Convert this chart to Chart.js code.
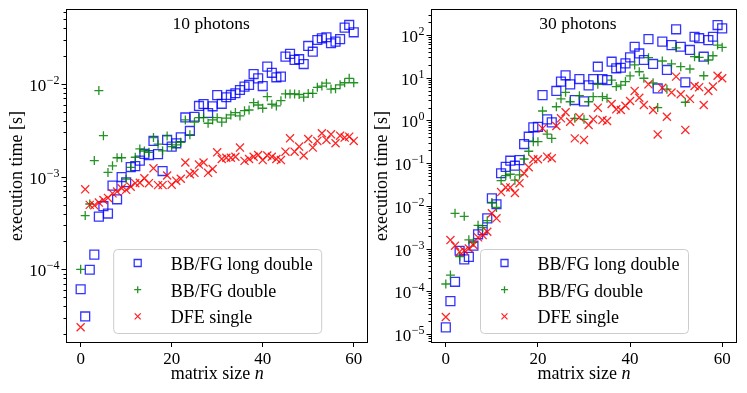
<!DOCTYPE html>
<html lang="en">
<head>
<meta charset="UTF-8" />
<title>execution time vs matrix size</title>
<style>
  body { margin: 0; background: #fff; }
  #wrap { position: relative; width: 747px; height: 393px; overflow: hidden; }
  canvas { position: absolute; top: 0; }
  #left { left: 0; }
  #right { left: 365px; }
</style>
</head>
<body>
<div id="wrap">
  <canvas id="right" width="382" height="393"></canvas>
  <canvas id="left" width="375" height="393"></canvas>
</div>
<script src="https://cdn.jsdelivr.net/npm/chart.js"></script>
<script>
// matrix sizes on the x axis
const matrixSize = [0,1,2,3,4,5,6,7,8,9,10,11,12,13,14,15,16,17,18,19,20,
  21,22,23,24,25,26,27,28,29,30,31,32,33,34,35,36,37,38,39,40,
  41,42,43,44,45,46,47,48,49,50,51,52,53,54,55,56,57,58,59,60];

const seriesLabels = ["BB/FG long double", "BB/FG double", "DFE single"];
const panelTitles = ["10 photons", "30 photons"];

// 10 photons (seconds)
const ph10LongDouble = [6.1e-5,3.1e-5,9.9e-5,1.44e-4,3.7e-4,4.8e-4,4.0e-4,8.0e-4,5.7e-4,9.9e-4,
  8.7e-4,1.27e-3,1.30e-3,1.49e-3,1.76e-3,1.71e-3,2.43e-3,1.75e-3,1.15e-3,2.49e-3,
  2.11e-3,2.29e-3,2.66e-3,4.35e-3,3.11e-3,4.43e-3,5.79e-3,6.08e-3,4.86e-3,5.74e-3,
  7.57e-3,6.11e-3,7.19e-3,7.61e-3,7.94e-3,8.61e-3,9.35e-3,9.76e-3,1.28e-2,1.15e-2,
  9.5e-3,1.54e-2,1.32e-2,1.18e-2,1.20e-2,1.97e-2,2.11e-2,1.82e-2,1.85e-2,1.64e-2,
  2.57e-2,2.23e-2,2.98e-2,3.11e-2,3.19e-2,2.75e-2,2.86e-2,3.05e-2,4.05e-2,4.33e-2,3.61e-2];
const ph10Double = [1.0e-4,3.8e-4,5.07e-4,1.49e-3,8.48e-3,2.77e-3,1.11e-3,1.31e-3,1.60e-3,1.60e-3,
  9.4e-4,1.26e-3,1.62e-3,1.99e-3,1.89e-3,1.83e-3,2.64e-3,2.24e-3,1.90e-3,2.75e-3,
  2.11e-3,2.2e-3,2.35e-3,4.09e-3,2.84e-3,3.87e-3,4.33e-3,4.33e-3,3.77e-3,4.09e-3,
  4.33e-3,3.87e-3,4.27e-3,4.63e-3,4.91e-3,4.52e-3,5.15e-3,5.24e-3,6.29e-3,5.93e-3,
  5.47e-3,7.3e-3,6.04e-3,5.8e-3,6.6e-3,7.8e-3,7.8e-3,7.8e-3,7.7e-3,7.2e-3,
  7.9e-3,7.9e-3,9.2e-3,9.5e-3,1.02e-2,8.8e-3,8.9e-3,9.8e-3,1.03e-2,1.15e-2,1.03e-2];
const ph10Single = [2.37e-5,7.3e-4,4.96e-4,4.9e-4,5.25e-4,5.6e-4,5.9e-4,6.6e-4,6.9e-4,7.5e-4,
  7.2e-4,7.8e-4,8.5e-4,8.6e-4,9.6e-4,8.5e-4,1.23e-3,8.1e-4,8.1e-4,1.03e-3,
  8.2e-4,9.05e-4,9.5e-4,1.42e-3,1.06e-3,1.10e-3,1.35e-3,1.42e-3,1.10e-3,1.21e-3,
  1.83e-3,1.55e-3,1.60e-3,1.60e-3,1.64e-3,2.06e-3,1.48e-3,1.55e-3,1.64e-3,1.71e-3,
  1.51e-3,1.69e-3,1.64e-3,1.55e-3,1.51e-3,1.86e-3,2.59e-3,1.86e-3,2.11e-3,1.69e-3,
  2.55e-3,2.06e-3,2.43e-3,2.94e-3,2.49e-3,2.86e-3,2.29e-3,2.77e-3,2.64e-3,2.70e-3,2.43e-3];

// 30 photons (seconds)
const ph30LongDouble = [1.43e-5,5.9e-5,1.67e-4,8.9e-4,5.6e-4,6.4e-4,1.17e-3,2.16e-3,2.7e-3,5.1e-3,
  1.5e-2,1.09e-2,0.058,0.082,0.114,0.087,0.118,0.28,0.416,0.69,
  0.71,3.9,1.06,0.90,4.9,8.1,11.4,7.0,3.0,9.3,
  2.8,6.6,9.3,18.1,9.3,8.8,23.7,16.6,17.1,21.7,
  30,53,37,26,80,21,5.6,70,15.2,58,
  136,53,7.8,44.6,91,84,31,76,91,171,143];
const ph30Double = [1.48e-4,2.4e-4,6.7e-3,6.5e-4,5.7e-3,1.6e-3,1.4e-3,3.5e-3,3.1e-3,4.5e-3,
  1.2e-2,9.2e-3,0.039,0.051,0.055,0.040,0.053,0.125,0.19,0.318,
  0.318,1.66,0.48,0.38,2.09,3.2,4.55,2.74,1.12,3.8,
  1.06,2.74,3.6,7.0,3.6,3.3,8.8,6.2,6.7,8.1,
  11,19.9,13.8,9.7,29.4,7.6,2.0,24.6,5.4,21,
  50,18.1,2.66,16,31,30,11.1,26,32.7,58,51.5];
const ph30Single = [2.5e-5,1.58e-3,1.17e-3,8.4e-4,8.9e-4,1.01e-3,1.21e-3,1.83e-3,2.07e-3,2.48e-3,
  6.7e-3,5.1e-3,0.021,0.027,0.027,0.020,0.034,0.058,0.080,0.123,
  0.123,0.65,0.142,0.13,0.74,1.12,1.55,0.93,0.38,1.18,
  0.35,0.78,1.06,1.99,1.02,0.97,2.42,1.82,1.75,2.21,
  2.85,4.9,3.4,2.3,7.0,1.75,0.47,5.8,1.22,4.5,
  10.6,4.1,0.60,3.2,6.4,6.0,2.3,4.9,6.2,11.1,9.7];

const FONT = "Liberation Serif";
const BLUE = "rgba(0,0,255,0.8)";
const GREEN = "rgba(0,128,0,0.85)";
const RED = "rgba(255,0,0,0.85)";

function makeSets(blue, green, red) {
  return [
    {
      label: seriesLabels[0],
      data: matrixSize.map((n, i) => ({ x: n, y: blue[i] })),
      pointStyle: "rect", pointRadius: 6.3,
      pointBorderColor: BLUE, pointBackgroundColor: "rgba(0,0,0,0)",
      pointBorderWidth: 1.3, order: 3,
    },
    {
      label: seriesLabels[1],
      data: matrixSize.map((n, i) => ({ x: n, y: green[i] })),
      pointStyle: "cross", pointRadius: 4.5,
      pointBorderColor: GREEN, pointBackgroundColor: GREEN,
      pointBorderWidth: 1.3, order: 2,
    },
    {
      label: seriesLabels[2],
      data: matrixSize.map((n, i) => ({ x: n, y: red[i] })),
      pointStyle: "crossRot", pointRadius: 5.7,
      pointBorderColor: RED, pointBackgroundColor: RED,
      pointBorderWidth: 1.3, order: 1,
    },
  ];
}

// frame, log ticks with 10^k labels, title, axis titles and legend
const decor = {
  id: "decor",
  afterDraw(chart, args, opts) {
    const ctx = chart.ctx;
    const a = chart.chartArea;
    const ys = chart.scales.y;
    ctx.save();
    ctx.strokeStyle = "#000";
    ctx.lineWidth = 1;
    const L = Math.round(a.left) - 0.5, R = Math.round(a.right) + 0.5;
    const T = Math.round(a.top) - 0.5, B = Math.round(a.bottom) + 0.5;
    ctx.strokeRect(L, T, R - L, B - T);

    // y ticks
    const lo = Math.floor(Math.log10(ys.min)), hi = Math.ceil(Math.log10(ys.max));
    ctx.fillStyle = "#000";
    for (let e = lo; e <= hi; e++) {
      for (let m = 1; m <= 9; m++) {
        const v = m * Math.pow(10, e);
        if (v < ys.min || v > ys.max) continue;
        const py = Math.round(ys.getPixelForValue(v)) + 0.5;
        const len = m === 1 ? 5 : 3;
        ctx.beginPath();
        ctx.moveTo(L, py);
        ctx.lineTo(L - len, py);
        ctx.stroke();
        if (m === 1) {
          const ex = e < 0 ? "\u2212" + (-e) : String(e);
          ctx.font = "12px '" + FONT + "'";
          const ew = ctx.measureText(ex).width;
          ctx.textAlign = "right";
          ctx.textBaseline = "alphabetic";
          const rx = L - 7;
          ctx.fillText(ex, rx, py - 1);
          ctx.font = "17px '" + FONT + "'";
          ctx.fillText("10", rx - ew - 0.5, py + 6);
        }
      }
    }

    // panel title
    ctx.font = "17.5px '" + FONT + "'";
    ctx.textAlign = "center";
    ctx.textBaseline = "alphabetic";
    ctx.fillText(opts.title, a.left + 0.48 * (a.right - a.left), 29);

    // x axis title, with italic n
    ctx.font = "18px '" + FONT + "'";
    const w1 = ctx.measureText("matrix size ").width;
    ctx.font = "italic 18px '" + FONT + "'";
    const w2 = ctx.measureText("n").width;
    const cx = (a.left + a.right) / 2;
    ctx.textAlign = "left";
    ctx.font = "18px '" + FONT + "'";
    ctx.fillText("matrix size ", cx - (w1 + w2) / 2, 379);
    ctx.font = "italic 18px '" + FONT + "'";
    ctx.fillText("n", cx - (w1 + w2) / 2 + w1, 379);

    // y axis title
    ctx.save();
    ctx.translate(a.left - 45, (a.top + a.bottom) / 2);
    ctx.rotate(-Math.PI / 2);
    ctx.font = "18px '" + FONT + "'";
    ctx.textAlign = "center";
    ctx.fillText("execution time [s]", 0, 0);
    ctx.restore();

    // legend (lower center)
    const bw = 208, bh = 84;
    const bx = cx - bw / 2, by = a.bottom - 9 - bh;
    ctx.beginPath();
    ctx.roundRect(bx + 0.5, by + 0.5, bw, bh, 4);
    ctx.fillStyle = "rgba(255,255,255,0.8)";
    ctx.fill();
    ctx.strokeStyle = "#cccccc";
    ctx.stroke();
    chart.data.datasets.forEach((ds, i) => {
      const ry = by + 14 + i * 26.7;
      const mx = bx + 24.5;
      ctx.strokeStyle = ds.pointBorderColor;
      ctx.lineWidth = 1.3;
      ctx.beginPath();
      if (ds.pointStyle === "rect") {
        ctx.rect(mx - 3.5, ry - 3.5, 7, 7);
      } else if (ds.pointStyle === "cross") {
        ctx.moveTo(mx - 3.5, ry); ctx.lineTo(mx + 3.5, ry);
        ctx.moveTo(mx, ry - 3.5); ctx.lineTo(mx, ry + 3.5);
      } else {
        ctx.moveTo(mx - 3, ry - 3); ctx.lineTo(mx + 3, ry + 3);
        ctx.moveTo(mx - 3, ry + 3); ctx.lineTo(mx + 3, ry - 3);
      }
      ctx.stroke();
      ctx.fillStyle = "#000";
      ctx.font = "18px '" + FONT + "'";
      ctx.textAlign = "left";
      ctx.fillText(ds.label, bx + 57.5, ry + 7);
    });
    ctx.restore();
  },
};

function makeChart(id, title, sets, yMin, yMax, padRight) {
  return new Chart(document.getElementById(id), {
    type: "scatter",
    data: { datasets: sets },
    options: {
      responsive: false,
      animation: false,
      devicePixelRatio: 1,
      layout: { padding: { left: 0, right: padRight, top: 10, bottom: 0 } },
      plugins: {
        legend: { display: false },
        tooltip: { enabled: false },
        decor: { title: title },
      },
      scales: {
        x: {
          type: "linear",
          min: -3,
          max: 63,
          ticks: {
            stepSize: 20,
            includeBounds: false,
            color: "#000",
            padding: 2,
            maxRotation: 0,
            font: { family: FONT, size: 17 },
          },
          grid: { drawOnChartArea: false, drawTicks: true, tickLength: 5, color: "#000" },
          border: { display: false },
          afterFit: (s) => { s.height = 51; },
        },
        y: {
          type: "logarithmic",
          min: yMin,
          max: yMax,
          ticks: { display: false },
          grid: { display: false },
          border: { display: false },
          afterFit: (s) => { s.width = 67; },
        },
      },
    },
    plugins: [decor],
  });
}

makeChart("left", panelTitles[0], makeSets(ph10LongDouble, ph10Double, ph10Single),
  Math.pow(10, -4.784), Math.pow(10, -1.202), 3);
makeChart("right", panelTitles[1], makeSets(ph30LongDouble, ph30Double, ph30Single),
  Math.pow(10, -5.187), Math.pow(10, 2.585), 11);
</script>
</body>
</html>
